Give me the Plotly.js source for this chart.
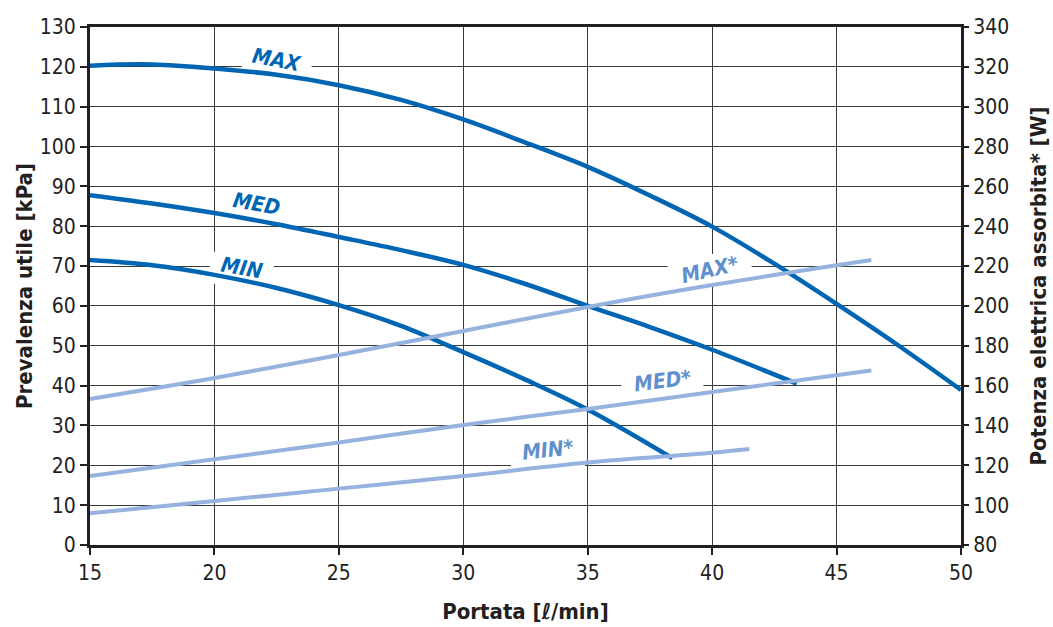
<!DOCTYPE html>
<html>
<head>
<meta charset="utf-8">
<script src="https://cdn.plot.ly/plotly-3.0.1.min.js"></script>
<style>html,body{margin:0;padding:0;background:#fff;}#chart{width:1053px;height:627px;}</style>
</head>
<body>
<div id="chart"></div>
<script>
// Pressure curves (left axis, kPa)
const maxQ = [15, 17.5, 20, 22.5, 25, 27.5, 30, 32.5, 35, 37.5, 40, 42.5, 45, 47.5, 50];
const maxP = [120.3, 120.6, 119.6, 118, 115.4, 111.7, 106.8, 101, 94.9, 87.7, 79.9, 70.6, 60.5, 50, 38.9];
const medQ = [15, 17.5, 20, 22.5, 25, 27.5, 30, 32.5, 35, 37.5, 40, 43.4];
const medP = [87.8, 85.7, 83.3, 80.5, 77.3, 74, 70.3, 65.5, 60, 54.7, 49, 40.5];
const minQ = [15, 17.5, 20, 22.5, 25, 27.5, 30, 32.5, 35, 38.4];
const minP = [71.5, 70.2, 67.8, 64.5, 60.2, 55, 48.4, 41.5, 34, 21.8];
// Power curves (right axis, W)
const maxWQ = [15, 20, 25, 30, 35, 40, 46.4];
const maxW = [153.3, 163.8, 175.4, 187.4, 199.5, 210.5, 223];
const medWQ = [15, 20, 25, 30, 35, 40, 46.4];
const medW = [114.6, 123, 131.5, 140.2, 148.3, 156.8, 167.6];
const minWQ = [15, 20, 25, 30, 35, 40, 41.5];
const minW = [95.9, 102.1, 108.3, 114.6, 121.4, 126.3, 128.2];
// Curve labels
const labelText = ["MAX", "MED", "MIN", "MAX*", "MED*", "MIN*"];
const labelQ = [22.5, 21.7, 21.1, 39.9, 38.0, 33.4];
const labelV = [121.6, 85.7, 69.6, 218, 162.3, 127.7];
const labelAxis = ["y", "y", "y", "y2", "y2", "y2"];
const labelAngle = [11, 10, 10, -13, -7, -6];
const labelGapW = [70, 70, 64, 84, 82, 74];

const dark = "#0066b3";
const light = "#96b2de";
const lightText = "#5f8fcc";
const fontFam = "'Liberation Sans Narrow', 'DejaVu Sans Condensed', Arial, sans-serif";

const Y_RANGE = [0, 130], Y2_RANGE = [80, 340];
const toLeft = (v, ax) => ax === "y" ? v :
  Y_RANGE[0] + (v - Y2_RANGE[0]) * (Y_RANGE[1] - Y_RANGE[0]) / (Y2_RANGE[1] - Y2_RANGE[0]);

const traces = [
  {x: maxQ, y: maxP, yaxis: "y", mode: "lines", line: {color: dark, width: 4.5, shape: "spline", smoothing: 1}},
  {x: medQ, y: medP, yaxis: "y", mode: "lines", line: {color: dark, width: 4.5, shape: "spline", smoothing: 1}},
  {x: minQ, y: minP, yaxis: "y", mode: "lines", line: {color: dark, width: 4.5, shape: "spline", smoothing: 1}},
  {x: maxWQ, y: maxW, yaxis: "y2", mode: "lines", line: {color: light, width: 4, shape: "spline"}},
  {x: medWQ, y: medW, yaxis: "y2", mode: "lines", line: {color: light, width: 4, shape: "spline"}},
  {x: minWQ, y: minW, yaxis: "y2", mode: "lines", line: {color: light, width: 4, shape: "spline"}}
];

const annotations = labelText.map((t, i) => ({
  x: labelQ[i], y: labelV[i], xref: "x", yref: labelAxis[i],
  text: "<b><i>" + t + "</i></b>", showarrow: false, textangle: labelAngle[i],
  font: {family: fontFam, size: 21, color: i < 3 ? dark : lightText}
}));

// white gaps that cut the grid behind each label (drawn between grid and curves)
const shapes = labelText.map((t, i) => ({
  type: "rect", layer: "between",
  xref: "x", yref: "y",
  xsizemode: "pixel", ysizemode: "pixel",
  xanchor: labelQ[i], yanchor: toLeft(labelV[i], labelAxis[i]),
  x0: -labelGapW[i] / 2, x1: labelGapW[i] / 2, y0: -16, y1: 16,
  fillcolor: "#ffffff", line: {width: 0}
}));

const layout = {
  width: 1053, height: 627,
  margin: {l: 90, r: 92, t: 27, b: 82},
  paper_bgcolor: "#fff", plot_bgcolor: "#fff",
  showlegend: false,
  font: {family: fontFam, size: 20, color: "#231f20"},
  xaxis: {
    range: [15, 50], dtick: 5, tick0: 15,
    showgrid: true, gridcolor: "#3a3a3a", gridwidth: 1,
    zeroline: false, showline: true, linecolor: "#231f20", linewidth: 3, mirror: true,
    ticks: "outside", ticklen: 7, tickwidth: 2, tickcolor: "#231f20",
    tickfont: {family: fontFam, size: 21, color: "#231f20"},
    title: {text: "<b>Portata [ℓ/min]</b>", standoff: 20, font: {family: fontFam, size: 22, color: "#231f20"}}
  },
  yaxis: {
    range: Y_RANGE, dtick: 10,
    showgrid: true, gridcolor: "#3a3a3a", gridwidth: 1,
    zeroline: false, showline: true, linecolor: "#231f20", linewidth: 3, mirror: true,
    ticks: "outside", ticklen: 7, tickwidth: 2, tickcolor: "#231f20",
    tickfont: {family: fontFam, size: 21, color: "#231f20"},
    title: {text: "<b>Prevalenza utile [kPa]</b>", standoff: 2, font: {family: fontFam, size: 22, color: "#231f20"}}
  },
  yaxis2: {
    range: Y2_RANGE, dtick: 20, overlaying: "y", side: "right",
    showgrid: false, zeroline: false, showline: false,
    ticks: "outside", ticklen: 7, tickwidth: 2, tickcolor: "#231f20",
    tickfont: {family: fontFam, size: 21, color: "#231f20"},
    title: {text: "<b>Potenza elettrica assorbita* [W]</b>", standoff: 22, font: {family: fontFam, size: 22, color: "#231f20"}}
  },
  shapes: shapes,
  annotations: annotations
};

Plotly.newPlot("chart", traces, layout, {displayModeBar: false, staticPlot: true});
</script>
</body>
</html>
